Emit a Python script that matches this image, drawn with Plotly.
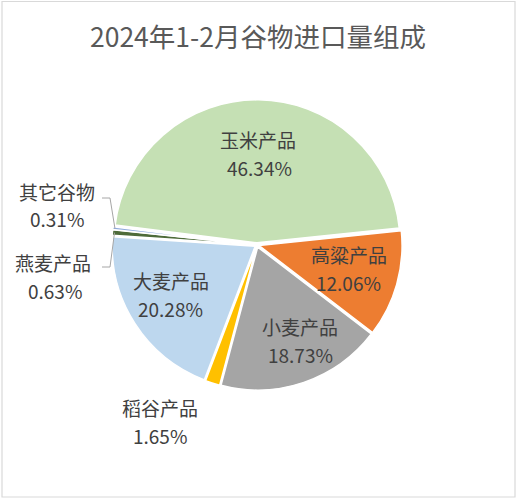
import math
import plotly.graph_objects as go

# Import composition of cereals, Jan-Feb 2024 (share of total, %)
categories = ["玉米产品", "高粱产品", "小麦产品", "稻谷产品", "大麦产品", "燕麦产品", "其它谷物"]
shares = [46.34, 12.06, 18.73, 1.65, 20.28, 0.63, 0.31]
colors = ["#C5E0B4", "#ED7D31", "#A5A5A5", "#FFC000", "#BDD7EE", "#4E6B3A", "#8FAADC"]

W, H = 517, 500
CX, CY, R = 257, 245, 143          # pie centre / radius in pixels
PULL = 0.015
START = -82.8                      # first slice starts here (deg clockwise from 12 o'clock)

half = R * (1 + PULL)
dom_x = [(CX - half) / W, (CX + half) / W]
dom_y = [1 - (CY + half) / H, 1 - (CY - half) / H]


def px(x, y):
    return x / W, 1 - y / H


fig = go.Figure(go.Pie(
    labels=categories,
    values=shares,
    sort=False,
    direction="clockwise",
    rotation=START,
    pull=[PULL] * len(shares),
    marker=dict(colors=colors, line=dict(color="white", width=1.5)),
    textinfo="none",
    hoverinfo="label+percent",
    domain=dict(x=dom_x, y=dom_y),
    showlegend=False,
))

# label anchor points (pixel centres of name line and value line)
label_pos = {
    "玉米产品": ((258, 139), (259, 167)),
    "高粱产品": ((349, 254), (348, 282)),
    "小麦产品": ((300, 326), (300, 354)),
    "大麦产品": ((171, 280), (170, 308)),
    "其它谷物": ((57, 191), (57, 219)),
    "燕麦产品": ((53, 262), (55, 290)),
    "稻谷产品": ((160, 407), (160, 435)),
}

annotations = []
for name, val in zip(categories, shares):
    (nx, ny), (vx, vy) = label_pos[name]
    for (x, y), txt in (((nx, ny), name), ((vx, vy), f"{val:.2f}%")):
        xp, yp = px(x, y)
        annotations.append(dict(
            x=xp, y=yp, xref="paper", yref="paper", text=txt, showarrow=False,
            xanchor="center", yanchor="middle",
            font=dict(family="Noto Sans CJK SC", size=19, color="#404040"),
        ))

annotations.append(dict(
    x=px(258, 0)[0], y=px(0, 36)[1], xref="paper", yref="paper",
    text="2024年1-2月谷物进口量组成", showarrow=False,
    xanchor="center", yanchor="middle",
    font=dict(family="Noto Sans CJK SC", size=26.5, color="#595959"),
))

# leader lines for the two thinnest slices, ending at the slice mid-angle on the rim
total = sum(shares)
cum = 0.0
mid_angle = {}
for name, val in zip(categories, shares):
    mid_angle[name] = START + (cum + val / 2) / total * 360
    cum += val

shapes = []
for name, (lx, ly), ex in (("其它谷物", (102, 198), 110),
                            ("燕麦产品", (102, 267), 110)):
    a = math.radians(mid_angle[name])
    rx = CX + R * math.sin(a)
    ry = CY - R * math.cos(a)
    pts = [px(lx, ly), px(ex, ly), px(rx, ry)]
    path = "M {} {} L {} {} L {} {}".format(*[c for p in pts for c in p])
    shapes.append(dict(type="path", xref="paper", yref="paper", path=path,
                       line=dict(color="#A6A6A6", width=1)))

# chart frame
shapes.append(dict(type="rect", xref="paper", yref="paper",
                   x0=px(2, 0)[0], x1=px(515, 0)[0], y0=px(0, 497)[1], y1=px(0, 1.5)[1],
                   line=dict(color="#D9D9D9", width=1.2)))

fig.update_layout(
    width=W, height=H,
    margin=dict(l=0, r=0, t=0, b=0),
    paper_bgcolor="white",
    plot_bgcolor="white",
    annotations=annotations,
    shapes=shapes,
)

fig.write_html("out.html")
